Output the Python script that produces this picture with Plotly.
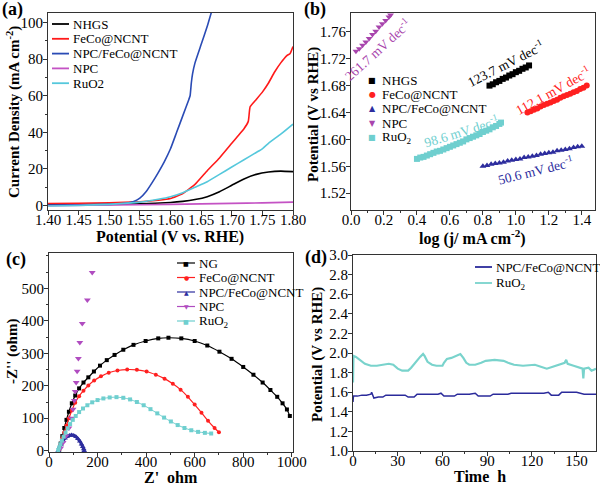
import plotly.graph_objects as go

W, H = 600, 485
def PX(x): return x / W
def PY(y): return 1 - y / H

SERIF = "Liberation Serif"

# ---------------- Panel (a): LSV ----------------
a_names = ["NHGS", "FeCo@NCNT", "NPC/FeCo@NCNT", "NPC", "RuO2"]
a_colors = ["#000000", "#ff1a1a", "#2a4bb5", "#c452c4", "#55c8dc"]
a_nhgs_v = [1.40, 1.50, 1.55, 1.60, 1.62, 1.64, 1.66, 1.68, 1.70, 1.72, 1.74, 1.76, 1.78, 1.80]
a_nhgs_j = [0.4, 0.6, 0.9, 1.6, 2.2, 3.2, 4.8, 7.5, 11.0, 14.5, 17.0, 18.3, 18.8, 18.5]
a_feco_v = [1.40, 1.45, 1.50, 1.55, 1.58, 1.60, 1.62, 1.64, 1.66, 1.68, 1.70, 1.71, 1.72, 1.727, 1.728, 1.730, 1.74, 1.75, 1.76, 1.77, 1.78, 1.79, 1.795, 1.80]
a_feco_j = [1.0, 1.2, 1.5, 2.0, 2.8, 3.8, 6.5, 11.5, 19.0, 26.0, 34.0, 38.0, 42.0, 46.0, 48.5, 54.0, 58.0, 62.0, 67.0, 73.0, 78.0, 82.0, 83.0, 87.0]
a_npcf_v = [1.40, 1.45, 1.50, 1.52, 1.53, 1.54, 1.55, 1.56, 1.57, 1.58, 1.59, 1.60, 1.61, 1.62, 1.63, 1.632, 1.634, 1.636, 1.64, 1.65, 1.66, 1.667]
a_npcf_j = [0.2, 0.3, 0.6, 0.9, 1.3, 2.2, 4.0, 7.5, 12.5, 18.0, 24.0, 31.0, 40.0, 49.0, 58.0, 60.0, 67.0, 72.0, 78.0, 88.0, 98.0, 106.0]
a_npc_v = [1.40, 1.50, 1.60, 1.70, 1.75, 1.80]
a_npc_j = [-0.2, 0.2, 0.6, 1.1, 1.4, 1.8]
a_ruo2_v = [1.40, 1.45, 1.50, 1.55, 1.58, 1.60, 1.62, 1.64, 1.66, 1.68, 1.70, 1.72, 1.74, 1.75, 1.76, 1.78, 1.80]
a_ruo2_j = [-0.3, 0.0, 0.6, 1.8, 3.4, 4.8, 7.0, 10.0, 13.0, 17.0, 21.0, 25.0, 29.0, 31.0, 34.0, 39.0, 44.5]

# ---------------- Panel (b): Tafel ----------------
b_names = ["NHGS", "FeCo@NCNT", "NPC/FeCo@NCNT", "NPC", "RuO<sub>2</sub>"]
b_colors = ["#000000", "#ff2020", "#2d2d9e", "#a845ad", "#6fcfcf"]
b_symbols = ["square", "circle", "triangle-up", "triangle-down", "square"]
b_nhgs_x = [0.84, 0.86, 0.88, 0.90, 0.92, 0.94, 0.96, 0.98, 1.00, 1.02, 1.04, 1.06, 1.08]
b_nhgs_y = [1.680, 1.682, 1.685, 1.687, 1.690, 1.692, 1.695, 1.697, 1.700, 1.702, 1.705, 1.707, 1.710]
b_feco_x = [1.07, 1.09, 1.11, 1.13, 1.15, 1.17, 1.19, 1.21, 1.23, 1.25, 1.27, 1.29, 1.31, 1.33, 1.35, 1.37, 1.39, 1.41, 1.43]
b_feco_y = [1.640, 1.642, 1.644, 1.646, 1.649, 1.651, 1.653, 1.655, 1.657, 1.659, 1.662, 1.664, 1.666, 1.668, 1.670, 1.672, 1.675, 1.677, 1.680]
b_npcf_x = [0.80, 0.825, 0.85, 0.875, 0.90, 0.925, 0.95, 0.975, 1.00, 1.025, 1.05, 1.075, 1.10, 1.125, 1.15, 1.175, 1.20, 1.225, 1.25, 1.275, 1.30, 1.325, 1.35, 1.375, 1.40]
b_npcf_y = [1.560, 1.561, 1.563, 1.564, 1.565, 1.566, 1.568, 1.569, 1.570, 1.571, 1.573, 1.574, 1.575, 1.576, 1.578, 1.579, 1.580, 1.581, 1.583, 1.584, 1.585, 1.586, 1.588, 1.589, 1.590]
b_npc_x = [0.03, 0.05, 0.07, 0.09, 0.11, 0.13, 0.15, 0.17, 0.19, 0.21, 0.23, 0.24]
b_npc_y = [1.731, 1.735, 1.740, 1.745, 1.750, 1.756, 1.761, 1.767, 1.772, 1.777, 1.782, 1.785]
b_ruo2_x = [0.40, 0.42, 0.44, 0.46, 0.48, 0.50, 0.52, 0.54, 0.56, 0.58, 0.60, 0.62, 0.64, 0.66, 0.68, 0.70, 0.72, 0.74, 0.76, 0.78, 0.80, 0.82, 0.84, 0.86, 0.88, 0.90, 0.91]
b_ruo2_y = [1.571, 1.573, 1.574, 1.576, 1.578, 1.580, 1.582, 1.583, 1.585, 1.587, 1.589, 1.591, 1.593, 1.595, 1.597, 1.600, 1.602, 1.604, 1.606, 1.608, 1.611, 1.613, 1.615, 1.618, 1.620, 1.623, 1.625]
b_slopes = ["261.7", "123.7", "112.1", "98.6", "50.6"]

# ---------------- Panel (c): Nyquist ----------------
c_names = ["NG", "FeCo@NCNT", "NPC/FeCo@NCNT", "NPC", "RuO<sub>2</sub>"]
c_colors = ["#000000", "#ff2020", "#2d2d9e", "#b04cc0", "#6fcfcf"]
c_symbols = ["square", "circle", "triangle-up", "triangle-down", "square"]
c_ng_x = [42, 48, 55, 63, 72, 82, 94, 108, 124, 142, 162, 185, 210, 238, 270, 306, 348, 398, 450, 492, 545, 600, 652, 702, 752, 800, 842, 880, 912, 940, 962, 980, 992]
c_ng_y = [3, 22, 45, 70, 95, 120, 146, 170, 192, 210, 226, 244, 262, 279, 295, 311, 326, 338, 346, 348, 346, 338, 324, 305, 283, 258, 234, 210, 187, 166, 146, 127, 107]
c_feco_x = [42, 48, 55, 63, 72, 82, 94, 108, 124, 142, 162, 186, 214, 246, 282, 322, 362, 402, 440, 476, 510, 542, 572, 600, 628, 655, 682, 700]
c_feco_y = [3, 20, 38, 57, 78, 100, 124, 148, 168, 185, 201, 216, 229, 240, 247, 250, 249, 244, 234, 222, 206, 188, 166, 142, 117, 92, 70, 57]
c_npcf_x = [38, 43, 50, 58, 66, 75, 84, 93, 102, 111, 119, 127, 134, 139, 143, 145]
c_npcf_y = [0, 10, 20, 30, 38, 44, 47, 48, 47, 43, 37, 29, 20, 12, 5, 0]
c_npc_x = [48, 58, 70, 82, 92, 99, 104, 108, 112, 116, 121, 127, 137, 158, 178]
c_npc_y = [8, 25, 45, 70, 100, 128, 155, 182, 210, 245, 284, 333, 392, 464, 549]
c_ruo2_x = [38, 42, 47, 53, 60, 68, 77, 87, 98, 110, 124, 140, 158, 178, 200, 224, 250, 278, 306, 334, 362, 390, 418, 446, 474, 502, 530, 558, 586, 614, 642, 668]
c_ruo2_y = [2, 10, 20, 31, 43, 56, 69, 82, 95, 107, 119, 130, 140, 149, 156, 161, 164, 165, 163, 158, 150, 140, 128, 115, 102, 90, 79, 70, 63, 58, 55, 53]
c_yticks = [0, 100, 200, 300, 400, 500]

# ---------------- Panel (d): stability ----------------
d_names = ["NPC/FeCo@NCNT", "RuO<sub>2</sub>"]
d_colors = ["#2b2b9b", "#79d3cc"]
d_ruo2_t = [0, 0.3, 2, 5, 8, 12, 16, 20, 24, 27, 30, 33, 37, 39, 42, 45, 47, 48, 50, 53, 56, 60, 61, 63, 66, 69, 72, 74, 76, 78, 82, 86, 89, 95, 101, 104, 108, 114, 119, 122, 126, 130, 134, 138, 142, 143, 144, 148, 152, 154, 154.5, 155, 158, 160, 163]
d_ruo2_v = [1.70, 1.97, 1.96, 1.92, 1.89, 1.87, 1.87, 1.88, 1.89, 1.88, 1.84, 1.82, 1.82, 1.85, 1.91, 1.96, 1.99, 1.97, 1.91, 1.88, 1.87, 1.87, 1.90, 1.94, 1.95, 1.97, 1.99, 1.95, 1.90, 1.88, 1.88, 1.90, 1.92, 1.93, 1.92, 1.90, 1.88, 1.87, 1.88, 1.88, 1.86, 1.84, 1.86, 1.88, 1.90, 1.93, 1.89, 1.87, 1.85, 1.84, 1.74, 1.84, 1.85, 1.82, 1.84]
d_npcf_t = [0, 0.3, 3, 6, 9, 12, 12.5, 13, 14, 17, 20, 22, 30, 35, 37, 41, 43, 50, 57, 59, 61, 68, 70, 78, 82, 84, 92, 94, 104, 106, 118, 128, 131, 133, 138, 140, 150, 153, 155, 163]
d_npcf_v = [1.50, 1.56, 1.56, 1.57, 1.57, 1.58, 1.60, 1.57, 1.54, 1.55, 1.55, 1.57, 1.57, 1.57, 1.55, 1.55, 1.58, 1.58, 1.58, 1.59, 1.56, 1.56, 1.58, 1.58, 1.59, 1.56, 1.56, 1.58, 1.58, 1.59, 1.59, 1.59, 1.60, 1.57, 1.57, 1.60, 1.60, 1.59, 1.58, 1.58]

fig = go.Figure()

# Panel a
for name, col, xs, ys in zip(a_names, a_colors,
                             [a_nhgs_v, a_feco_v, a_npcf_v, a_npc_v, a_ruo2_v],
                             [a_nhgs_j, a_feco_j, a_npcf_j, a_npc_j, a_ruo2_j]):
    fig.add_trace(go.Scatter(x=xs, y=ys, mode="lines", name=name, showlegend=False,
                             line=dict(color=col, width=1.6, shape="spline", smoothing=0.4),
                             xaxis="x", yaxis="y"))

# Panel b
for name, col, sym, xs, ys in zip(b_names, b_colors, b_symbols,
                                  [b_nhgs_x, b_feco_x, b_npcf_x, b_npc_x, b_ruo2_x],
                                  [b_nhgs_y, b_feco_y, b_npcf_y, b_npc_y, b_ruo2_y]):
    fig.add_trace(go.Scatter(x=xs, y=ys, mode="markers", name=name, showlegend=False,
                             marker=dict(color=col, symbol=sym, size=6, line=dict(width=0)),
                             xaxis="x2", yaxis="y2"))

# Panel c
c_modes = ["lines+markers", "lines+markers", "lines+markers", "markers", "lines+markers"]
c_sizes = [4, 4, 5, 6, 4]
c_widths = [1.2, 1.2, 3, 1, 1]
for name, col, sym, mode, sz, lw, xs, ys in zip(c_names, c_colors, c_symbols, c_modes, c_sizes, c_widths,
                                               [c_ng_x, c_feco_x, c_npcf_x, c_npc_x, c_ruo2_x],
                                               [c_ng_y, c_feco_y, c_npcf_y, c_npc_y, c_ruo2_y]):
    fig.add_trace(go.Scatter(x=xs, y=ys, mode=mode, name=name, showlegend=False,
                             line=dict(color=col, width=lw, shape="spline", smoothing=0.5),
                             marker=dict(color=col, symbol=sym, size=sz, line=dict(width=0)),
                             xaxis="x3", yaxis="y3"))

# Panel d
for name, col, lw, xs, ys in zip(d_names, d_colors, [1.5, 2.2],
                                 [d_npcf_t, d_ruo2_t], [d_npcf_v, d_ruo2_v]):
    fig.add_trace(go.Scatter(x=xs, y=ys, mode="lines", name=name, showlegend=False,
                             line=dict(color=col, width=lw), xaxis="x4", yaxis="y4"))

tickfont = dict(family=SERIF, size=15, color="black")
def ax(domain, anchor, rng, dtick, fmt=None, tick0=None, minor=None, is_x=True, tickvals=None):
    d = dict(domain=domain, anchor=anchor, range=rng, dtick=dtick, showline=True, mirror=True,
             linecolor="#333", linewidth=1, ticks="outside", ticklen=4, tickcolor="#333",
             tickfont=tickfont, showgrid=False, zeroline=False, automargin=False,
             ticklabelstandoff=-8 if is_x else -3)
    if fmt: d["tickformat"] = fmt
    if tick0 is not None: d["tick0"] = tick0
    if tickvals is not None:
        d["tickmode"] = "array"
        d["tickvals"] = tickvals
    if minor: d["minor"] = dict(dtick=minor, tick0=0, ticks="outside", ticklen=2, tickcolor="#333", showgrid=False)
    return d

fig.update_layout(
    template="none",
    width=W, height=H, margin=dict(l=0, r=0, t=0, b=0, pad=0), autosize=False,
    paper_bgcolor="white", plot_bgcolor="white", showlegend=False,
    font=dict(family=SERIF, color="black"),
    xaxis=ax([PX(48), PX(293)], "y", [1.4, 1.8], 0.05, ".2f", 1.4),
    yaxis=ax([PY(210), PY(13)], "x", [-2.5, 105.3], 20, None, 0, 10, is_x=False),
    xaxis2=ax([PX(351), PX(595)], "y2", [0, 1.48], 0.2, ".1f", 0, 0.1),
    yaxis2=ax([PY(210), PY(13)], "x2", [1.495, 1.788], 0.04, ".2f", 1.52, is_x=False),
    xaxis3=ax([PX(49), PX(293)], "y3", [0, 1005], 200, None, 0, 100),
    yaxis3=ax([PY(452), PY(253)], "x3", [-4, 609], 100, None, 0, 50, is_x=False, tickvals=c_yticks),
    xaxis4=ax([PX(353), PX(596)], "y4", [0, 163], 30, None, 0, 15),
    yaxis4=ax([PY(451), PY(255)], "x4", [1.0, 3.0], 0.2, ".1f", 1.0, is_x=False),
)

ann = []
shapes = []
def text(x, y, s, size=16, color="black", angle=0, xanchor="center", family=SERIF):
    ann.append(dict(x=PX(x), y=PY(y), xref="paper", yref="paper", text=s, showarrow=False,
                    font=dict(family=family, size=size, color=color), textangle=angle,
                    xanchor=xanchor, yanchor="middle"))

# Panel labels
text(12, 9, "<b>(a)</b>", 18)
text(315, 9, "<b>(b)</b>", 18)
text(16, 259, "<b>(c)</b>", 18)
text(316, 257, "<b>(d)</b>", 18)

# Axis titles
text(13, 112, "<b>Current Density (mA cm<sup>-2</sup>)</b>", 15, angle=-90)
text(170, 237, "<b>Potential (V vs. RHE)</b>", 16)
text(313, 114, "<b>Potential (V vs RHE)</b>", 15, angle=-90)
text(472, 237, "<b>log (j/ mA cm<sup>-2</sup>)</b>", 16)
text(12, 352, "<b>-Z'' (ohm)</b>", 15, angle=-90)
text(171, 477, "<b>Z'  ohm</b>", 16)
text(317, 355, "<b>Potential (V vs RHE)</b>", 15, angle=-90)
text(480, 476, "<b>Time  h</b>", 16)

# Legend (a)
for i, (n, c) in enumerate(zip(["NHGS", "FeCo@NCNT", "NPC/FeCo@NCNT", "NPC", "RuO2"], a_colors)):
    y = 24 + 14.8 * i
    shapes.append(dict(type="line", xref="paper", yref="paper", x0=PX(52), x1=PX(69), y0=PY(y), y1=PY(y),
                       line=dict(color=c, width=1.8)))
    text(71, y, n, 13, xanchor="left")

# Legend (b)
glyphs = ["\u25A0", "\u25CF", "\u25B2", "\u25BC", "\u25A0"]
for i, (n, c, g) in enumerate(zip(b_names, b_colors, glyphs)):
    y = 81 + 14 * i
    text(372, y, g, 8, color=c, family="DejaVu Sans")
    text(380, y, n, 13, xanchor="left")

# Slope annotations (b)
for s, c, (x, y, ang) in zip(b_slopes, [b_colors[3], b_colors[0], b_colors[1], b_colors[4], b_colors[2]],
                             [(378, 50, -42), (506, 64, -27), (553, 90, -29), (461, 132, -17), (535, 170, -14)]):
    text(x, y, s + " mV dec<sup>-1</sup>", 13.5, color=c, angle=ang)

# Legend (c)
for i, (n, c, g) in enumerate(zip(c_names, c_colors, glyphs)):
    y = 263 + 14.5 * i
    shapes.append(dict(type="line", xref="paper", yref="paper", x0=PX(177), x1=PX(195), y0=PY(y), y1=PY(y),
                       line=dict(color=c, width=1.2)))
    text(186, y, g, 6, color=c, family="DejaVu Sans")
    text(197, y, n, 13, xanchor="left")

# Legend (d)
for i, (n, c) in enumerate(zip(d_names, d_colors)):
    y = 267 + 16 * i
    shapes.append(dict(type="line", xref="paper", yref="paper", x0=PX(475), x1=PX(492), y0=PY(y), y1=PY(y),
                       line=dict(color=c, width=1.8)))
    text(494, y, n, 13, xanchor="left")

fig.update_layout(annotations=ann, shapes=shapes)
fig.write_html("out.html", config={"displayModeBar": False},
               post_script="document.body.style.margin='0px';")
